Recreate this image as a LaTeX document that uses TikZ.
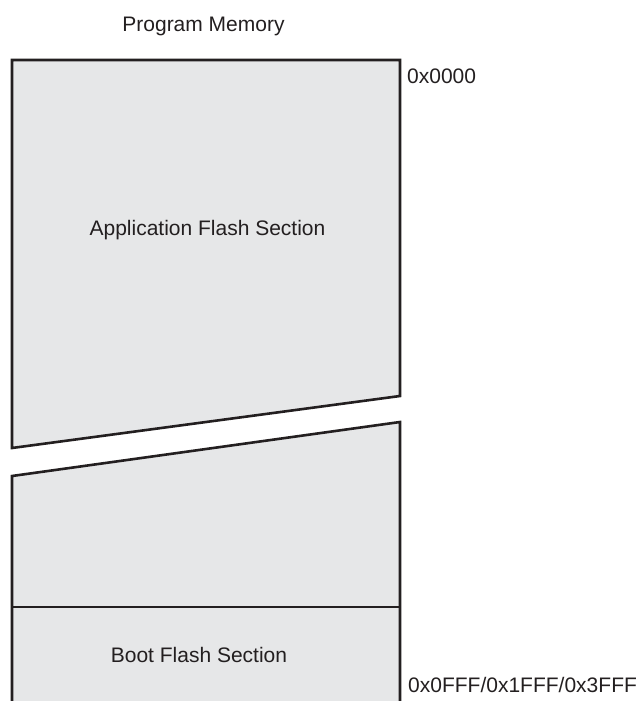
\documentclass[tikz,border=0pt]{standalone}
\usepackage{fontspec}
\setmainfont{Liberation Sans}
\definecolor{memfill}{HTML}{E6E7E8}
\definecolor{memline}{HTML}{231F20}
\begin{document}
\begin{tikzpicture}[x=1pt,y=-1pt,
  memtext/.style={inner sep=0pt,text=memline,font=\fontsize{21}{25}\selectfont},
  memedge/.style={draw=memline,line width=2.6pt,line join=miter}]
\useasboundingbox (0,0) rectangle (643,701);
% upper piece
\fill[memfill] (12,60) -- (400,60) -- (400,396) -- (12,448) -- cycle;
\draw[memedge] (12,60) -- (400,60) -- (400,396) -- (12,448) -- cycle;
% lower piece
\fill[memfill] (12,710) -- (12,476) -- (400,422) -- (400,710) -- cycle;
\draw[memedge] (12,710) -- (12,476) -- (400,422) -- (400,710);
\draw[memedge] (12,607) -- (400,607);
% texts
\node[memtext,anchor=base] (title) at (203.5,32) {Program Memory};
\node[memtext,anchor=base] (app) at (207.5,235) {Application Flash Section};
\node[memtext,anchor=base] (boot) at (199,662) {Boot Flash Section};
\node[memtext,anchor=base west] (start) at (407,83) {0x0000};
\node[memtext,anchor=base west] (end) at (408,692) {0x0FFF/0x1FFF/0x3FFF};
\end{tikzpicture}
\end{document}
